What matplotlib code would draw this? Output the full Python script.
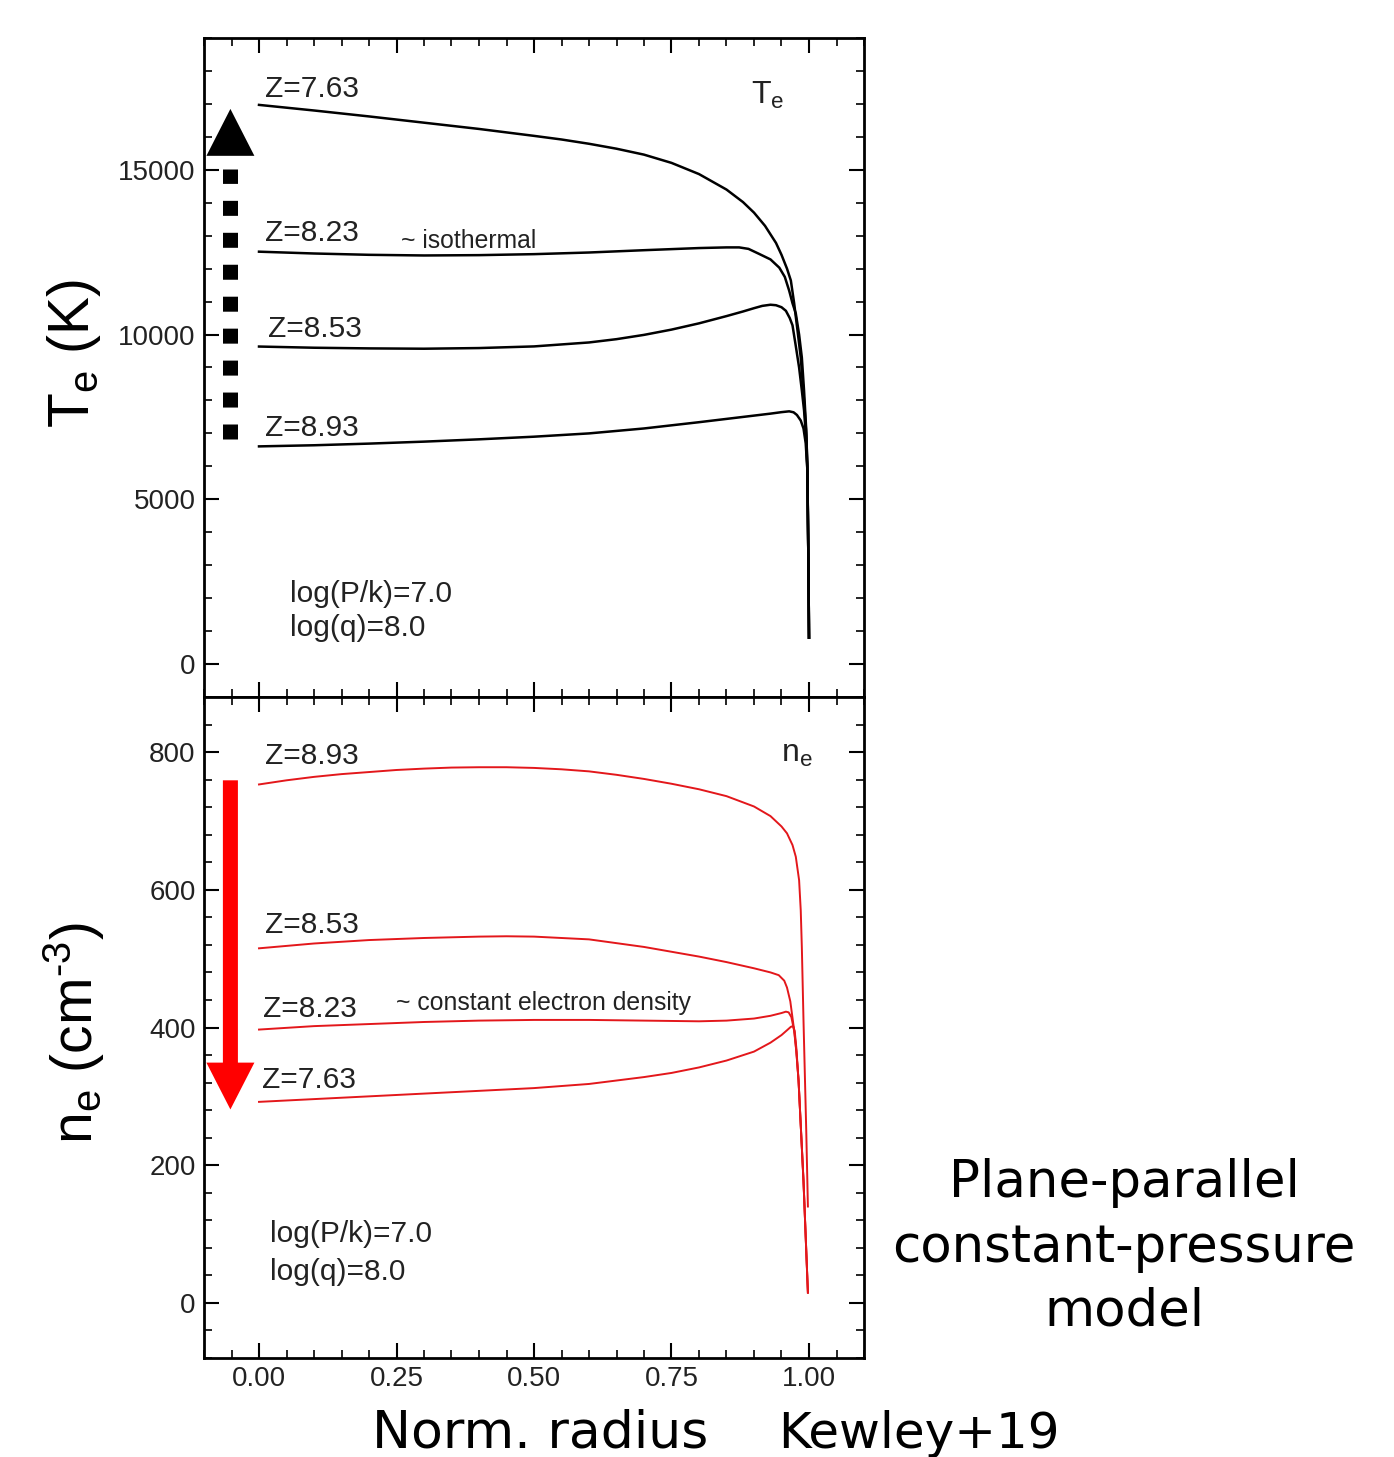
import matplotlib
matplotlib.use('Agg')
import matplotlib.pyplot as plt
from matplotlib.patches import Polygon, FancyArrow
from matplotlib.ticker import MultipleLocator

plt.rcParams['font.family'] = 'Liberation Sans'
plt.rcParams['mathtext.fontset'] = 'custom'
plt.rcParams['mathtext.rm'] = 'Liberation Sans'
plt.rcParams['mathtext.it'] = 'Liberation Sans:italic'

# ---- data ----
# top panel: electron temperature (K) vs normalised radius
r_te_763 = [0, .1, .2, .3, .4, .5, .55, .6, .65, .7, .75, .8, .85, .88, .9, .92, .94,
            .95, .96, .967, .973, .98, .985, .991, .995, .997, .999, 1.0]
te_763 = [16970, 16800, 16620, 16430, 16240, 16030, 15920, 15790, 15640, 15460, 15210,
          14870, 14400, 14020, 13700, 13300, 12780, 12420, 12000, 11640, 10950, 10000,
          9300, 8000, 7000, 6000, 3000, 800]
r_te_823 = [0, .1, .2, .3, .4, .5, .6, .7, .8, .85, .873, .89, .909, .93, .946, .956,
            .964, .97, .976, .982, .987, .991, .995, .997, .999, 1.0]
te_823 = [12515, 12460, 12420, 12400, 12410, 12440, 12490, 12560, 12625, 12645, 12645,
          12600, 12450, 12280, 12030, 11750, 11330, 10950, 10640, 10000, 9300, 8300,
          7100, 6000, 3000, 800]
r_te_853 = [0, .1, .2, .3, .4, .5, .6, .65, .7, .75, .8, .85, .88, .9, .915, .93, .94,
            .95, .958, .965, .97, .976, .982, .987, .991, .995, .997, .999, 1.0]
te_853 = [9636, 9600, 9580, 9570, 9590, 9640, 9760, 9860, 9990, 10150, 10340, 10560,
          10700, 10800, 10870, 10905, 10890, 10830, 10720, 10500, 10280, 9650, 9000,
          8300, 7700, 6800, 5900, 3000, 800]
r_te_893 = [0, .1, .2, .3, .4, .5, .6, .7, .8, .85, .9, .93, .95, .964, .972, .978,
            .985, .99, .994, .997, .999, 1.0]
te_893 = [6606, 6640, 6690, 6750, 6820, 6900, 7000, 7150, 7340, 7440, 7540, 7600, 7645,
          7670, 7640, 7560, 7390, 7150, 6700, 5900, 3000, 800]

# bottom panel: electron density (cm^-3) vs normalised radius
r_ne_893 = [0, .05, .1, .15, .2, .25, .3, .35, .4, .45, .5, .55, .6, .65, .7, .75, .8,
            .85, .9, .93, .95, .96, .97, .976, .982, .985, .987, .99, .995, .998]
ne_893 = [753, 759, 764, 768, 771, 774, 776, 777.5, 778, 778, 777, 775, 772, 767, 761,
          754, 746, 736, 721, 707, 692, 682, 665, 648, 614, 570, 516, 410, 250, 140]
r_ne_853 = [0, .1, .2, .3, .4, .45, .5, .6, .7, .8, .85, .9, .93, .945, .955, .96, .966,
            .97, .974, .977, .981, .99, .998]
ne_853 = [515, 522, 527, 530, 532, 532.5, 532, 528, 517, 503, 495, 486, 480, 476, 468,
          458, 438, 414, 390, 365, 323, 177, 15]
r_ne_823 = [0, .1, .2, .3, .4, .5, .6, .7, .75, .8, .85, .9, .93, .95, .958, .963, .968,
            .973, .977, .981, .99, .998]
ne_823 = [397, 402, 405, 408, 410, 411, 411, 410, 409.5, 409, 410, 413, 417, 421, 423,
          422, 415, 395, 365, 323, 177, 15]
r_ne_763 = [0, .1, .2, .3, .4, .5, .6, .7, .75, .8, .85, .9, .93, .95, .96, .967, .971,
            .974, .977, .981, .99, .998]
ne_763 = [292, 296, 300, 304, 308, 312, 318, 328, 334, 342, 352, 365, 378, 389, 396,
          401, 402, 395, 370, 323, 177, 15]

top_series = [('Z=7.63', r_te_763, te_763), ('Z=8.23', r_te_823, te_823),
              ('Z=8.53', r_te_853, te_853), ('Z=8.93', r_te_893, te_893)]
bot_series = [('Z=8.93', r_ne_893, ne_893), ('Z=8.53', r_ne_853, ne_853),
              ('Z=8.23', r_ne_823, ne_823), ('Z=7.63', r_ne_763, ne_763)]

TXT = '#222222'
RED_LINE = '#e3171b'

fig = plt.figure(figsize=(13.94, 14.57), dpi=100)
ax1 = fig.add_axes([204/1394, 1-697/1457, 660/1394, 659/1457])
ax2 = fig.add_axes([204/1394, 1-1358/1457, 660/1394, 661/1457])

for ax in (ax1, ax2):
    ax.set_xlim(-0.1, 1.1)
    ax.xaxis.set_major_locator(MultipleLocator(0.25))
    ax.xaxis.set_minor_locator(MultipleLocator(0.05))
    ax.tick_params(which='both', direction='in', top=True, right=True,
                   labelsize=20, labelcolor=TXT, pad=6)
    ax.tick_params(which='major', length=11, width=1.5)
    ax.tick_params(which='minor', length=5.5, width=1.2)
    for sp in ax.spines.values():
        sp.set_linewidth(2)

# top panel
ax1.set_ylim(-1000, 19000)
ax1.yaxis.set_major_locator(MultipleLocator(5000))
ax1.yaxis.set_minor_locator(MultipleLocator(1000))
ax1.tick_params(labelbottom=False)
for name, r, vals in top_series:
    ax1.plot(r, vals, color='black', lw=1.8, solid_joinstyle='round')

ax1.text(0.011, 17212, 'Z=7.63', fontsize=21.5, color=TXT, va='baseline')
ax1.text(0.011, 12827, 'Z=8.23', fontsize=21.5, color=TXT, va='baseline')
ax1.text(0.259, 12636, '~ isothermal', fontsize=17.8, color=TXT, va='baseline')
ax1.text(0.016, 9939, 'Z=8.53', fontsize=21.5, color=TXT, va='baseline')
ax1.text(0.011, 6909, 'Z=8.93', fontsize=21.5, color=TXT, va='baseline')
ax1.text(0.895, 17000, r'T$_{\rm e}$', fontsize=23, color=TXT, va='baseline')
ax1.text(0.056, 1879, 'log(P/k)=7.0', fontsize=21.5, color=TXT, va='baseline')
ax1.text(0.056, 848, 'log(q)=8.0', fontsize=21.5, color=TXT, va='baseline')

# dotted black arrow (temperature rises with decreasing metallicity)
ax1.plot([-0.052, -0.052], [6818, 15030], color='black', lw=10.8,
         ls=(0, (1, 1.13)), dash_capstyle='butt')
ax1.add_patch(Polygon([[-0.052 - 0.0436, 15424], [-0.052 + 0.0436, 15424],
                       [-0.052, 16848]], closed=True, facecolor='black',
                      edgecolor='none'))

# bottom panel
ax2.set_ylim(-80, 880)
ax2.yaxis.set_major_locator(MultipleLocator(200))
ax2.yaxis.set_minor_locator(MultipleLocator(40))
ax2.set_xticks([0, 0.25, 0.5, 0.75, 1.0])
ax2.set_xticklabels(['0.00', '0.25', '0.50', '0.75', '1.00'])
for name, r, vals in bot_series:
    ax2.plot(r, vals, color=RED_LINE, lw=1.4, solid_joinstyle='round')

ax2.text(0.011, 782.6, 'Z=8.93', fontsize=21.5, color=TXT, va='baseline')
ax2.text(0.949, 785.6, r'n$_{\rm e}$', fontsize=23, color=TXT, va='baseline')
ax2.text(0.011, 537, 'Z=8.53', fontsize=21.5, color=TXT, va='baseline')
ax2.text(0.008, 415, 'Z=8.23', fontsize=21.5, color=TXT, va='baseline')
ax2.text(0.25, 425, '~ constant electron density', fontsize=17.8, color=TXT,
         va='baseline')
ax2.text(0.005, 312, 'Z=7.63', fontsize=21.5, color=TXT, va='baseline')
ax2.text(0.02, 88.4, 'log(P/k)=7.0', fontsize=21.5, color=TXT, va='baseline')
ax2.text(0.02, 33.2, 'log(q)=8.0', fontsize=21.5, color=TXT, va='baseline')

# red arrow (density falls with decreasing metallicity)
ax2.add_patch(FancyArrow(-0.052, 759, 0, -478, width=0.0273, head_width=0.0873,
                         head_length=68, length_includes_head=True,
                         facecolor='#ff0000', edgecolor='none'))

# axis labels as on the slide
fig.text(74/1394, 1-353/1457, r'T$_{\rm e}$ (K)', fontsize=41, rotation=90,
         ha='center', va='center', color='black')
fig.text(74/1394, 1-1033/1457, r'n$_{\rm e}$ (cm$^{\text{-3}}$)', fontsize=41,
         rotation=90, ha='center', va='center', color='black')

fig.text(372/1394, 1-1447/1457, 'Norm. radius', fontsize=37.5, family='DejaVu Sans',
         ha='left', va='baseline', color='black')
fig.text(778/1394, 1-1448/1457, 'Kewley+19', fontsize=36, family='DejaVu Sans',
         ha='left', va='baseline', color='black')
for line, yb in [('Plane-parallel', 1197), ('constant-pressure', 1262), ('model', 1325)]:
    fig.text(1124/1394, 1-yb/1457, line, fontsize=37, family='DejaVu Sans',
             ha='center', va='baseline', color='black')

fig.savefig('out.png', dpi=100)
